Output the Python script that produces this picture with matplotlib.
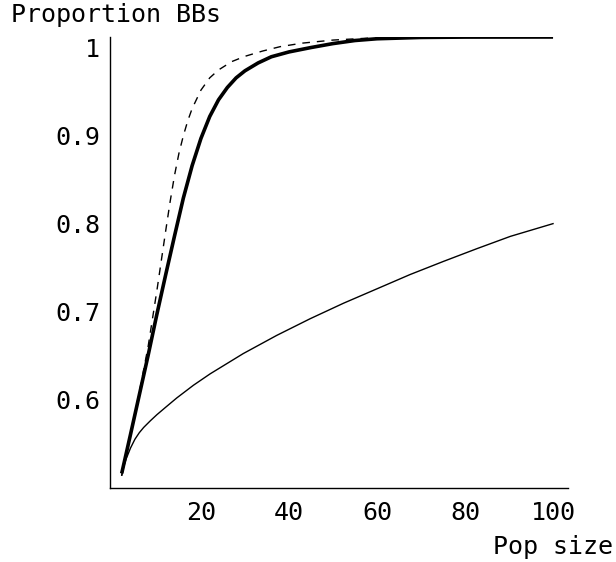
import matplotlib
matplotlib.use("Agg")
import matplotlib.pyplot as plt
from matplotlib import font_manager

# values
pop_thick = [2, 4, 6, 8, 10, 12, 14, 16, 18, 20, 22, 24, 26, 28, 30, 33, 36, 40,
             45, 50, 55, 60, 70, 80, 100]
prop_thick = [0.5156, 0.560, 0.605, 0.650, 0.697, 0.742, 0.786, 0.829, 0.866, 0.897,
              0.922, 0.941, 0.955, 0.966, 0.974, 0.983, 0.990, 0.9955, 1.0005, 1.0050,
              1.0085, 1.0105, 1.0120, 1.0124, 1.0125]

pop_dashed = [2, 4, 6, 8, 10, 12, 13, 14, 15, 16, 17, 18, 20, 22, 24, 27, 30, 34,
              38, 43, 50, 58, 70, 100]
prop_dashed = [0.513, 0.560, 0.608, 0.660, 0.724, 0.792, 0.825, 0.855, 0.880, 0.900,
               0.917, 0.931, 0.952, 0.966, 0.975, 0.9845, 0.9905, 0.9965, 1.0015, 1.0055,
               1.009, 1.0112, 1.0122, 1.0125]

pop_thin = [2, 2.5, 3, 4, 5, 6, 7, 8.5, 10, 12, 14.5, 18.3, 22.1, 29.6, 37.2, 44.8,
            52.4, 60, 67.5, 75.1, 82.7, 90.3, 100]
prop_thin = [0.5136, 0.524, 0.532, 0.5445, 0.5545, 0.562, 0.568, 0.5755, 0.5825, 0.591,
             0.6015, 0.6160, 0.629, 0.652, 0.6727, 0.6917, 0.7094, 0.7258, 0.742, 0.757,
             0.7715, 0.7855, 0.80]

x_ticks = [20, 40, 60, 80, 100]
y_ticks = [0.6, 0.7, 0.8, 0.9, 1.0]
y_ticklabels = ["0.6", "0.7", "0.8", "0.9", "1"]

names = {f.name for f in font_manager.fontManager.ttflist}
family = "Noto Sans Mono CJK JP" if "Noto Sans Mono CJK JP" in names else "DejaVu Sans Mono"
plt.rcParams["font.family"] = family
fs = 18

W, H = 616, 562
fig = plt.figure(figsize=(W / 100, H / 100), dpi=100)
ax = fig.add_axes([110 / W, (H - 488) / H, 458 / W, 451 / H])

ax.plot(pop_thin, prop_thin, color="black", lw=1.0)
ax.plot(pop_dashed, prop_dashed, color="black", lw=1.0, dashes=(5.5, 5))
ax.plot(pop_thick, prop_thick, color="black", lw=2.6, solid_capstyle="butt")

ax.set_xlim(-0.66, 103.4)
ax.set_ylim(0.499, 1.0125)
ax.set_xticks(x_ticks)
ax.set_yticks(y_ticks)
ax.set_yticklabels(y_ticklabels)
ax.tick_params(length=0, labelsize=fs)
ax.tick_params(axis="x", pad=9)
ax.tick_params(axis="y", pad=7)

for side in ["top", "right"]:
    ax.spines[side].set_visible(False)
for side in ["left", "bottom"]:
    ax.spines[side].set_linewidth(1.0)

fig.text(11 / W, 1 - 3 / H, "Proportion BBs", ha="left", va="top", fontsize=fs)
fig.text(613 / W, 1 - 535 / H, "Pop size", ha="right", va="top", fontsize=fs)

fig.savefig("out.png", dpi=100)
